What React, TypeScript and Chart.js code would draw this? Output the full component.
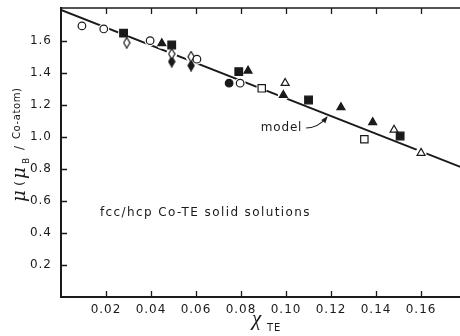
import React, { useEffect, useRef } from 'react';
import { Chart, registerables } from 'chart.js';

Chart.register(...registerables);

// ---------- data ----------
const xTickValues = [0.02, 0.04, 0.06, 0.08, 0.1, 0.12, 0.14, 0.16];
const xTickLabels = ['0.02', '0.04', '0.06', '0.08', '0.10', '0.12', '0.14', '0.16'];
const yTickValues = [0.2, 0.4, 0.6, 0.8, 1.0, 1.2, 1.4, 1.6];
const yTickLabels = ['0.2', '0.4', '0.6', '0.8', '1.0', '1.2', '1.4', '1.6'];

const xMin = 0;
const xMax = 0.1773;
const yMin = 0;
const yMax = 1.806;

const modelX = [0, 0.18];
const modelY = [1.794, 0.799];

const openCircleX = [0.0093, 0.019, 0.0396, 0.0604, 0.0796];
const openCircleY = [1.694, 1.675, 1.602, 1.486, 1.336];

const openDiamondX = [0.0292, 0.0492, 0.0578];
const openDiamondY = [1.589, 1.519, 1.502];

const filledDiamondX = [0.0492, 0.0578];
const filledDiamondY = [1.471, 1.446];

const filledSquareX = [0.0278, 0.0492, 0.079, 0.11, 0.1507];
const filledSquareY = [1.649, 1.575, 1.408, 1.231, 1.006];

const filledCircleX = [0.0747];
const filledCircleY = [1.336];

const filledTriangleX = [0.0448, 0.0831, 0.0988, 0.1244, 0.1385];
const filledTriangleY = [1.585, 1.414, 1.262, 1.185, 1.092];

const openSquareX = [0.0892, 0.1348];
const openSquareY = [1.304, 0.986];

const openTriangleX = [0.0996, 0.148, 0.16];
const openTriangleY = [1.337, 1.045, 0.9];

const annotationText = 'fcc/hcp Co-TE solid solutions';
const annotationPos = { x: 0.0173, y: 0.506 };
const modelLabel = 'model';
const modelLabelPos = { x: 0.0888, y: 1.0375 };
const arrowPts = [
  { x: 0.1089, y: 1.056 },
  { x: 0.1145, y: 1.058 },
  { x: 0.1182, y: 1.125 },
];

const INK = '#1a1a1a';

function pts(xs: number[], ys: number[]) {
  return xs.map((x, i) => ({ x, y: ys[i] }));
}

function diamond(filled: boolean) {
  const c = document.createElement('canvas');
  c.width = 8;
  c.height = 12;
  const g = c.getContext('2d')!;
  g.beginPath();
  g.moveTo(4, 0.8);
  g.lineTo(7.1, 6);
  g.lineTo(4, 11.2);
  g.lineTo(0.9, 6);
  g.closePath();
  g.fillStyle = filled ? INK : '#ffffff';
  g.fill();
  g.lineWidth = 1.2;
  g.strokeStyle = INK;
  g.stroke();
  return c;
}

const decor = {
  id: 'decor',
  beforeDraw(chart: any) {
    (chart.ctx as any).letterSpacing = '1px';
  },
  afterDraw(chart: any) {
    const ctx = chart.ctx as CanvasRenderingContext2D & { letterSpacing: string };
    const a = chart.chartArea;
    const xs = chart.scales.x;
    const ys = chart.scales.y;
    ctx.save();
    ctx.strokeStyle = INK;
    ctx.fillStyle = INK;
    // top frame
    ctx.lineWidth = 1.5;
    ctx.beginPath();
    ctx.moveTo(a.left, a.top);
    ctx.lineTo(a.right, a.top);
    ctx.stroke();
    // inward ticks
    ctx.lineWidth = 1.3;
    ctx.beginPath();
    for (const v of xTickValues) {
      const px = Math.round(xs.getPixelForValue(v)) + 0.5;
      ctx.moveTo(px, a.bottom);
      ctx.lineTo(px, a.bottom - 6);
      ctx.moveTo(px, a.top);
      ctx.lineTo(px, a.top + 6);
    }
    for (const v of yTickValues) {
      const py = Math.round(ys.getPixelForValue(v)) + 0.5;
      ctx.moveTo(a.left, py);
      ctx.lineTo(a.left + 6, py);
    }
    ctx.stroke();

    // annotation
    ctx.letterSpacing = '1.4px';
    ctx.font = '12px "DejaVu Sans"';
    ctx.textAlign = 'left';
    ctx.textBaseline = 'alphabetic';
    ctx.fillText(annotationText, xs.getPixelForValue(annotationPos.x), ys.getPixelForValue(annotationPos.y));

    // model label + arrow
    ctx.letterSpacing = '0.8px';
    ctx.fillText(modelLabel, xs.getPixelForValue(modelLabelPos.x), ys.getPixelForValue(modelLabelPos.y));
    const p = arrowPts.map((q) => ({ x: xs.getPixelForValue(q.x), y: ys.getPixelForValue(q.y) }));
    ctx.lineWidth = 1.1;
    ctx.beginPath();
    ctx.moveTo(p[0].x, p[0].y);
    ctx.quadraticCurveTo(p[1].x, p[1].y, p[2].x, p[2].y);
    ctx.stroke();
    const ang = Math.atan2(p[2].y - p[1].y, p[2].x - p[1].x);
    const L = 6, W = 2.6;
    ctx.beginPath();
    ctx.moveTo(p[2].x + Math.cos(ang) * 1, p[2].y + Math.sin(ang) * 1);
    ctx.lineTo(p[2].x - Math.cos(ang) * L - Math.sin(ang) * W, p[2].y - Math.sin(ang) * L + Math.cos(ang) * W);
    ctx.lineTo(p[2].x - Math.cos(ang) * L + Math.sin(ang) * W, p[2].y - Math.sin(ang) * L - Math.cos(ang) * W);
    ctx.closePath();
    ctx.fill();

    // x axis title
    ctx.letterSpacing = '0px';
    ctx.font = 'italic 21px "Liberation Serif"';
    ctx.fillText('χ', 252, 325);
    ctx.letterSpacing = '1px';
    ctx.font = '10px "DejaVu Sans"';
    ctx.fillText('TE', 267, 331);

    // y axis title (rotated)
    ctx.save();
    ctx.translate(25, 202);
    ctx.rotate(-Math.PI / 2);
    ctx.letterSpacing = '0px';
    ctx.font = 'italic 18px "DejaVu Serif"';
    ctx.fillText('μ', 0, 0);
    ctx.font = '13px "DejaVu Sans"';
    ctx.fillText('(', 16, -1);
    ctx.font = 'italic 18px "DejaVu Serif"';
    ctx.fillText('μ', 23, 0);
    ctx.font = '9px "DejaVu Sans"';
    ctx.fillText('B', 38, 4);
    ctx.font = '12px "DejaVu Sans"';
    ctx.fillText('/', 52, -2);
    ctx.letterSpacing = '0.6px';
    ctx.font = '10px "DejaVu Sans"';
    ctx.fillText('Co-atom)', 63, -5);
    ctx.restore();

    ctx.restore();
    ctx.letterSpacing = '0px';
  },
};

export default function App() {
  const ref = useRef<HTMLCanvasElement | null>(null);

  useEffect(() => {
    if (!ref.current) return;
    const openDia = diamond(false);
    const fillDia = diamond(true);

    const marker = (label: string, data: any[], style: any, radius: number, filled: boolean) => ({
      label,
      data,
      showLine: false,
      pointStyle: style,
      pointRadius: radius,
      pointBorderWidth: 1.2,
      pointBorderColor: INK,
      pointBackgroundColor: filled ? INK : '#ffffff',
      order: 1,
    });

    const allX = [
      ...openCircleX, ...openDiamondX, ...filledDiamondX, ...filledSquareX,
      ...filledCircleX, ...filledTriangleX, ...openSquareX, ...openTriangleX,
    ];
    const allY = [
      ...openCircleY, ...openDiamondY, ...filledDiamondY, ...filledSquareY,
      ...filledCircleY, ...filledTriangleY, ...openSquareY, ...openTriangleY,
    ];

    const chart = new Chart(ref.current, {
      type: 'scatter',
      data: {
        datasets: [
          {
            label: 'model',
            data: pts(modelX, modelY),
            showLine: true,
            borderColor: INK,
            borderWidth: 2,
            pointRadius: 0,
            order: 3,
          } as any,
          {
            label: 'halo',
            data: pts(allX, allY),
            showLine: false,
            pointRadius: 5.5,
            pointBorderWidth: 0,
            pointBackgroundColor: '#ffffff',
            pointBorderColor: '#ffffff',
            order: 2,
          } as any,
          marker('open circle', pts(openCircleX, openCircleY), 'circle', 3.8, false),
          marker('open diamond', pts(openDiamondX, openDiamondY), openDia, 5, false),
          marker('filled diamond', pts(filledDiamondX, filledDiamondY), fillDia, 5, true),
          marker('filled square', pts(filledSquareX, filledSquareY), 'rect', 5.4, true),
          marker('filled circle', pts(filledCircleX, filledCircleY), 'circle', 3.8, true),
          marker('filled triangle', pts(filledTriangleX, filledTriangleY), 'triangle', 4.6, true),
          marker('open square', pts(openSquareX, openSquareY), 'rect', 5.2, false),
          marker('open triangle', pts(openTriangleX, openTriangleY), 'triangle', 4.6, false),
        ],
      },
      options: {
        responsive: false,
        animation: false,
        events: [],
        layout: { autoPadding: false, padding: { top: 8, left: 0, right: 0, bottom: 0 } },
        plugins: { legend: { display: false }, tooltip: { enabled: false } },
        scales: {
          x: {
            type: 'linear',
            min: xMin,
            max: xMax,
            afterBuildTicks: (s: any) => {
              s.ticks = xTickValues.map((v) => ({ value: v }));
            },
            afterFit: (s: any) => {
              s.height = 39;
              s.paddingLeft = 0;
              s.paddingRight = 0;
            },
            grid: { display: false, drawTicks: false },
            border: { display: true, color: INK, width: 2 },
            ticks: {
              autoSkip: false,
              maxRotation: 0,
              padding: 6,
              color: INK,
              font: { family: 'DejaVu Sans', size: 12 },
              callback: (v: any) => {
                const i = xTickValues.findIndex((t) => Math.abs(t - v) < 1e-9);
                return i >= 0 ? xTickLabels[i] : '';
              },
            },
          },
          y: {
            type: 'linear',
            min: yMin,
            max: yMax,
            afterBuildTicks: (s: any) => {
              s.ticks = yTickValues.map((v) => ({ value: v }));
            },
            afterFit: (s: any) => {
              s.width = 61;
              s.paddingTop = 0;
              s.paddingBottom = 0;
            },
            grid: { display: false, drawTicks: false },
            border: { display: true, color: INK, width: 2 },
            ticks: {
              autoSkip: false,
              padding: 9,
              color: INK,
              font: { family: 'DejaVu Sans', size: 12 },
              callback: (v: any) => {
                const i = yTickValues.findIndex((t) => Math.abs(t - v) < 1e-9);
                return i >= 0 ? yTickLabels[i] : '';
              },
            },
          },
        },
      },
      plugins: [decor],
    } as any);

    return () => chart.destroy();
  }, []);

  return (
    <div style={{ position: 'fixed', left: 0, top: 0, width: 460, height: 336, background: '#fff' }}>
      <canvas ref={ref} width={460} height={336} style={{ display: 'block' }} />
    </div>
  );
}
